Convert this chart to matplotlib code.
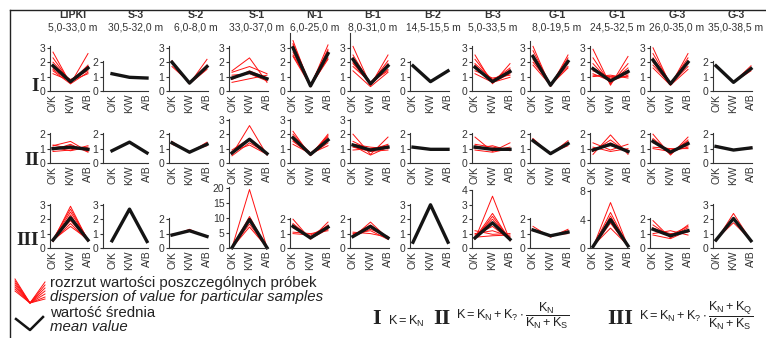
import matplotlib
matplotlib.use("Agg")
import matplotlib.pyplot as plt

plt.rcParams['font.family'] = ['Liberation Sans', 'DejaVu Sans']
plt.rcParams['mathtext.fontset'] = 'custom'
plt.rcParams['mathtext.rm'] = 'Liberation Sans'
plt.rcParams['mathtext.it'] = 'Liberation Sans'
plt.rcParams['mathtext.bf'] = 'Liberation Sans:bold'

W, H = 766, 338

sites = ["LIPKI", "S-3", "S-2", "S-1", "N-1", "B-1", "B-2", "B-3",
         "G-1", "G-1", "G-3", "G-3"]
depths = ["5,0-33,0 m", "30,5-32,0 m", "6,0-8,0 m", "33,0-37,0 m",
          "6,0-25,0 m", "8,0-31,0 m", "14,5-15,5 m", "5,0-33,5 m",
          "8,0-19,5 m", "24,5-32,5 m", "26,0-35,0 m", "35,0-38,5 m"]
categories = ["O/K", "K/W", "A/B"]
row_names = ["I", "II", "III"]

# --------- mean values (black) ---------
mean_I = [[1.75, 0.65, 1.6], [1.2, 0.95, 0.9], [2.0, 0.55, 1.7], [0.9, 1.3, 0.85],
          [3.0, 0.35, 2.6], [2.2, 0.5, 1.75], [1.75, 0.65, 1.4], [1.65, 0.65, 1.35],
          [2.4, 0.4, 2.05], [1.55, 0.7, 1.35], [2.15, 0.5, 2.0], [1.75, 0.6, 1.55]]
mean_II = [[1.0, 1.1, 0.95], [0.85, 1.45, 0.7], [1.4, 0.75, 1.3], [0.7, 1.65, 0.65],
           [1.75, 0.6, 1.6], [1.25, 0.9, 1.1], [1.1, 0.95, 0.95], [1.1, 0.95, 0.95],
           [1.55, 0.65, 1.35], [0.9, 1.3, 0.8], [1.5, 0.75, 1.35], [1.15, 0.9, 1.05]]
mean_III = [[0.55, 2.1, 0.55], [0.5, 2.7, 0.45], [0.9, 1.2, 0.8], [0.1, 9.5, 0.1],
            [1.5, 0.7, 1.45], [0.8, 1.5, 0.7], [0.4, 3.0, 0.4], [0.7, 1.75, 0.6],
            [1.25, 0.85, 1.1], [0.2, 4.0, 0.3], [1.3, 0.85, 1.2], [0.55, 2.05, 0.5]]

# --------- individual samples (red) ---------
samples_I = [
    [[2.7, 0.5, 2.6], [2.3, 0.6, 1.8], [2.0, 0.7, 1.7], [1.8, 0.6, 1.5],
     [1.6, 0.8, 1.4], [1.4, 0.5, 1.3], [1.2, 0.7, 1.2], [1.5, 0.6, 1.6]],
    [],
    [[2.1, 0.5, 2.2], [1.7, 0.6, 1.6], [1.9, 0.5, 1.5], [2.0, 0.6, 1.8]],
    [[1.4, 2.3, 0.6], [1.3, 1.7, 1.2], [0.6, 0.85, 1.1], [1.1, 1.2, 0.7], [0.8, 1.4, 0.9]],
    [[3.5, 0.3, 3.2], [3.3, 0.4, 2.9], [3.1, 0.35, 2.7], [2.9, 0.4, 2.5],
     [2.7, 0.3, 2.3], [2.5, 0.45, 2.8], [2.4, 0.35, 2.2], [3.2, 0.3, 2.6]],
    [[3.1, 0.4, 2.5], [2.5, 0.5, 2.1], [2.3, 0.6, 1.9], [2.1, 0.4, 1.7],
     [1.9, 0.5, 1.5], [1.7, 0.6, 1.4], [1.4, 0.3, 1.3], [2.0, 0.5, 1.8]],
    [],
    [[2.5, 0.5, 1.9], [2.2, 0.7, 1.6], [1.9, 0.8, 1.4], [1.6, 0.6, 1.2],
     [1.4, 0.9, 1.1], [1.2, 0.6, 0.95], [1.8, 0.55, 1.5]],
    [[3.1, 0.3, 2.5], [2.8, 0.4, 2.3], [2.5, 0.45, 2.1], [2.2, 0.35, 1.9],
     [2.0, 0.5, 1.7], [1.8, 0.4, 1.6]],
    [[2.9, 0.4, 2.4], [2.3, 0.5, 1.9], [1.9, 0.6, 1.6], [1.6, 0.8, 1.4],
     [1.4, 0.9, 1.2], [1.1, 1.0, 1.0], [1.0, 1.1, 0.9], [1.2, 0.7, 1.1]],
    [[3.0, 0.4, 2.6], [2.6, 0.5, 2.3], [2.3, 0.45, 2.1], [2.0, 0.55, 1.9],
     [1.8, 0.5, 1.7], [1.6, 0.4, 1.5]],
    [[1.8, 0.6, 1.75], [1.7, 0.6, 1.4]],
]
samples_II = [
    [[1.2, 1.5, 0.8], [0.8, 0.9, 1.2], [1.1, 0.85, 1.1], [0.9, 1.3, 0.75],
     [1.25, 1.0, 1.0], [1.0, 1.2, 0.9]],
    [],
    [[1.5, 0.7, 1.45], [1.3, 0.8, 1.2]],
    [[0.6, 2.6, 0.55], [0.9, 1.7, 0.7], [0.8, 1.25, 0.6], [0.5, 1.4, 0.7]],
    [[2.2, 0.5, 2.0], [2.0, 0.6, 1.8], [1.8, 0.7, 1.6], [1.6, 0.55, 1.4],
     [1.3, 0.65, 1.2], [1.5, 0.6, 1.9]],
    [[2.0, 0.6, 1.8], [1.5, 0.9, 1.3], [1.3, 1.1, 1.0], [1.1, 0.8, 0.9],
     [0.9, 1.0, 1.2], [1.2, 0.55, 1.1]],
    [],
    [[1.8, 0.8, 1.4], [1.3, 1.1, 0.9], [1.0, 1.2, 0.85], [0.9, 0.75, 1.0],
     [1.2, 0.9, 1.1], [1.05, 1.0, 0.95]],
    [[1.7, 0.6, 1.55], [1.5, 0.7, 1.2], [1.6, 0.65, 1.4]],
    [[0.6, 1.95, 0.6], [0.8, 1.6, 0.7], [1.0, 1.2, 0.9], [1.4, 0.9, 1.3],
     [1.1, 0.8, 1.0], [0.9, 1.4, 0.8]],
    [[2.0, 0.55, 1.8], [1.7, 0.7, 1.5], [1.4, 0.9, 1.2], [1.1, 1.0, 1.0],
     [1.0, 0.8, 1.1], [1.6, 0.6, 1.6]],
    [[1.2, 0.9, 1.1], [1.1, 0.9, 1.0]],
]
samples_III = [
    [[0.5, 2.9, 0.5], [0.6, 2.7, 0.55], [0.55, 2.5, 0.6], [0.45, 2.3, 0.5],
     [0.6, 1.9, 0.55], [0.5, 1.7, 0.5], [0.55, 1.5, 0.6]],
    [],
    [[0.85, 1.3, 0.75], [0.95, 1.15, 0.85]],
    [[0.1, 19.5, 0.1], [0.2, 8.0, 0.1], [0.1, 7.0, 0.2], [0.15, 10.5, 0.1]],
    [[2.0, 0.6, 1.8], [1.7, 0.7, 1.6], [1.4, 0.8, 1.4], [1.1, 1.0, 1.2],
     [1.0, 0.9, 1.5], [1.6, 0.65, 1.3]],
    [[0.75, 1.8, 0.65], [0.9, 1.6, 0.7], [1.1, 1.0, 0.75], [0.8, 1.3, 0.8],
     [1.0, 1.2, 0.6]],
    [],
    [[0.6, 3.6, 0.5], [0.7, 2.4, 0.55], [0.65, 2.2, 0.6], [0.8, 2.0, 0.65],
     [0.7, 1.8, 0.7], [0.9, 1.5, 0.6], [1.0, 1.2, 0.8], [1.2, 0.95, 1.0],
     [0.75, 0.85, 0.9]],
    [[1.5, 0.75, 1.3], [1.2, 0.9, 1.0], [1.3, 0.8, 1.2]],
    [[0.1, 6.4, 0.2], [0.2, 5.0, 0.3], [0.15, 4.5, 0.25], [0.2, 3.5, 0.3],
     [0.3, 2.8, 0.35]],
    [[1.9, 0.7, 1.6], [1.6, 0.8, 1.4], [1.3, 1.0, 1.1], [1.0, 1.2, 0.9],
     [0.9, 0.65, 1.2], [1.4, 0.9, 1.5]],
    [[0.5, 2.4, 0.5], [0.6, 1.75, 0.55]],
]

# y axis ticks per panel
yticks_I = [[0, 1, 2, 3], [0, 1, 2], [0, 1, 2, 3], [0, 1, 2, 3], [0, 1, 2, 3], [0, 1, 2, 3],
            [0, 1, 2], [0, 1, 2, 3], [0, 1, 2, 3], [0, 1, 2, 3], [0, 1, 2, 3], [0, 1, 2]]
yticks_II = [[0, 1, 2], [0, 1, 2], [0, 1, 2], [0, 1, 2, 3], [0, 1, 2, 3], [0, 1, 2, 3],
             [0, 1, 2], [0, 1, 2], [0, 1, 2], [0, 1, 2], [0, 1, 2], [0, 1, 2]]
yticks_III = [[0, 1, 2, 3], [0, 1, 2, 3], [0, 1, 2], [0, 5, 10, 15, 20], [0, 1, 2], [0, 1, 2],
              [0, 1, 2, 3], [0, 1, 2, 3, 4], [0, 1, 2], [0, 4, 8], [0, 1, 2], [0, 1, 2, 3]]

# --------- layout (pixels) ---------
col_x = [53, 112, 172, 232, 293, 353, 413, 475, 533, 593, 653, 716]
title_x = [73, 136, 196, 257, 315, 373, 433, 493, 557, 617, 677, 736]
x_left = [-0.15, -0.5] + [-0.15] * 10
px_x = 17.5
row_bottom = [91, 163, 248]
row_label_base = [91, 165, 245]
ytop_I = [3.1, 2.1, 3.1, 3.1, 4.0, 4.0, 2.1, 3.1, 3.5, 3.1, 3.1, 2.1]
ytop_II = [2.05, 2.05, 2.05, 3.05, 3.05, 3.05, 2.05, 2.05, 2.05, 2.05, 2.05, 2.05]
ytop_III = [3.05, 3.05, 2.05, 20.3, 2.05, 2.05, 3.05, 4.05, 2.05, 8.1, 2.05, 3.05]
pxu_III = [14.4, 14.4, 14.4, 3.0, 14.4, 14.4, 14.4, 14.4, 14.4, 7.1, 14.4, 14.4]

RED = "#ff1010"
BLK = "#141414"
GREY = "#333333"
TXT = "#222222"

fig = plt.figure(figsize=(W / 100, H / 100), dpi=100)


def px_axes(left, top, width, height):
    return fig.add_axes([left / W, 1 - (top + height) / H, width / W, height / H])


def panel(c, r, means, samples, ticks, ytop, pxu):
    x0 = col_x[c] + x_left[c] * px_x
    wd = (2.05 - x_left[c]) * px_x
    ht = ytop * pxu
    ax = px_axes(x0, row_bottom[r] - ht, wd, ht)
    xs = [0, 1, 2]
    for s in samples:
        ax.plot(xs, s, color=RED, lw=0.7, clip_on=False)
    ax.plot(xs, means, color=BLK, lw=2.4, clip_on=False)
    ax.set_xlim(x_left[c], 2.05)
    ax.set_ylim(0, ytop)
    ax.set_yticks(ticks)
    ax.set_xticks(xs)
    ax.set_xticklabels(categories, rotation=90)
    for side in ["top", "right"]:
        ax.spines[side].set_visible(False)
    for side in ["left", "bottom"]:
        ax.spines[side].set_color(GREY)
        ax.spines[side].set_linewidth(0.8)
    ax.tick_params(axis="y", length=2.5, width=0.8, color=GREY, labelsize=7.5,
                   labelcolor=GREY, pad=1)
    ax.tick_params(axis="x", length=0, labelsize=7.5, labelcolor=GREY, pad=2)
    ax.patch.set_alpha(0)
    return ax


for c in range(12):
    panel(c, 0, mean_I[c], samples_I[c], yticks_I[c], ytop_I[c], 14.4)
    panel(c, 1, mean_II[c], samples_II[c], yticks_II[c], ytop_II[c], 14.4)
    panel(c, 2, mean_III[c], samples_III[c], yticks_III[c], ytop_III[c], pxu_III[c])
    fig.text(title_x[c] / W, 1 - 15.5 / H, sites[c], ha="center", va="center",
             fontsize=7.6, fontweight="bold", color=GREY)
    fig.text(title_x[c] / W, 1 - 27.5 / H, depths[c], ha="center", va="center",
             fontsize=7.4, color=GREY)

# roman numerals of rows
for r, name in enumerate(row_names):
    fig.text(39 / W, 1 - row_label_base[r] / H, name,
             ha="right", va="baseline", fontsize=14, fontweight="bold",
             family="Liberation Serif", color=TXT)

# frame
fig.add_artist(plt.Line2D([10 / W, 1], [1 - 9.5 / H, 1 - 9.5 / H], color=TXT, lw=1.0))
fig.add_artist(plt.Line2D([10 / W, 10 / W], [1 - 9.5 / H, 0], color=TXT, lw=1.0))

# legend icons
leg = px_axes(12, 276, 36, 58)
leg.set_xlim(0, 36)
leg.set_ylim(58, 0)
leg.axis("off")
fan_left = [3, 5, 7, 9, 11, 13, 15]
fan_right = [6, 9, 12, 15, 18, 21, 23]
for yl, yr in zip(fan_left, fan_right):
    leg.plot([3, 18, 33], [yl, 27, yr], color=RED, lw=0.7)
leg.plot([4, 18, 31], [43, 54, 41], color=BLK, lw=1.8)

fig.text(50 / W, 1 - 283 / H, "rozrzut wartości poszczególnych próbek", fontsize=10.8,
         va="center", color=TXT)
fig.text(50 / W, 1 - 297 / H, "dispersion of value for particular samples", fontsize=10.8,
         style="italic", va="center", color=TXT)
fig.text(50 / W, 1 - 313 / H, "wartość średnia", fontsize=10.8, va="center", color=TXT)
fig.text(50 / W, 1 - 327 / H, "mean value", fontsize=10.8, style="italic", va="center",
         color=TXT)

# formulas
for xr, name in [(372, "I"), (433, "II"), (607, "III")]:
    fig.text(xr / W, 1 - 324 / H, name, ha="left", va="baseline", fontsize=16,
             fontweight="bold", family="Liberation Serif", color=TXT)
fig.text(388 / W, 1 - 321 / H, r"$\mathregular{K = K_N}$", fontsize=9.2, va="center",
         color=TXT)
fig.text(456 / W, 1 - 316 / H,
         r"$\mathregular{K = K_N + K_? \cdot \dfrac{K_N}{K_N + K_S}}$",
         fontsize=9.2, va="center", color=TXT)
fig.text(639 / W, 1 - 316 / H,
         r"$\mathregular{K = K_N + K_? \cdot \dfrac{K_N + K_Q}{K_N + K_S}}$",
         fontsize=9.2, va="center", color=TXT)

fig.savefig("out.png", dpi=100, facecolor="white")
